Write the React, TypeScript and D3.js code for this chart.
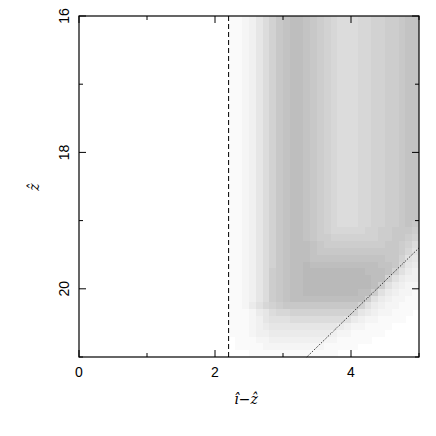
import React, { useEffect, useRef } from 'react';
import * as d3 from 'd3';

const xDomain = [0, 5];
const yDomain = [16, 21];
const xTicks = [0, 1, 2, 3, 4, 5];
const yTicks = [16, 17, 18, 19, 20, 21];
const xLabels = [0, 2, 4];
const yLabels = [16, 18, 20];

// density grid, 0.1 x 0.1 cells starting at (1.9, 16); one char per cell,
// base-36 darkness level (grey = 255 - 5 * level)
const gridX0 = 1.9;
const gridY0 = 16;
const gridStep = 0.1;
const upperRow = '00011 23579 bcddc ba987 77889 9aabc c';
const densityRows = [
  upperRow, upperRow, upperRow, upperRow, upperRow,
  upperRow, upperRow, upperRow, upperRow, upperRow,
  upperRow, upperRow, upperRow, upperRow, upperRow,
  upperRow, upperRow, upperRow, upperRow, upperRow,
  upperRow, upperRow, upperRow, upperRow, upperRow,
  upperRow, upperRow, upperRow, upperRow, upperRow,
  '00011 23579 bcddc ba987 77889 9aabc b',
  '00011 23579 bcddc ba988 88899 aabbb a',
  '00011 23579 bcddc baa99 99999 aabba 9',
  '00011 23579 bcddd cbaaa aaaaa abba9 7',
  '00011 23579 bcddd cbbbb bbbbb bbba8 6',
  '00011 23579 bcddd ccccc ccccc cbb96 5',
  '00011 23579 bcdde ddddd ddddd ccb85 4',
  '00011 2357a bcdde eeeee eeedd dc964 3',
  '00011 2357a bcdde eeeee eeeed d9643 3',
  '00011 2357a bcdde eeeee eeeed a6432 2',
  '00011 2357a bcdde eeeee eedda 64322 1',
  '00011 2357a bcddd ddddd ddda6 43221 1',
  '00011 24689 abbbb bbbbb bb964 32211 1',
  '00011 12457 88999 99999 98543 22111 0',
  '00011 12356 66777 77777 64322 11110 0',
  '00011 12345 55555 55554 32211 11000 0',
  '00011 12334 44444 44432 21111 10000 0',
  '00001 11223 33333 33221 11110 00000 0',
  '00001 11122 22222 22111 11000 00000 0',
  '00000 01111 11111 11110 00000 00000 0',
];

const dashedX = 2.2;
const dottedLine = [
  { x: 3.35, y: 21 },
  { x: 5, y: 19.4 },
];

const App = () => {
  const svgRef = useRef<SVGSVGElement>(null);

  useEffect(() => {
    const svg = d3.select(svgRef.current);
    svg.selectAll('*').remove();

    const plot = { left: 79, right: 419, top: 16, bottom: 357 };

    const x = d3.scaleLinear().domain(xDomain).range([plot.left, plot.right]);
    const y = d3.scaleLinear().domain(yDomain).range([plot.top, plot.bottom]);

    // heatmap cells
    const cells: { i: number; j: number; level: number }[] = [];
    densityRows.forEach((row, j) => {
      row.replace(/ /g, '').split('').forEach((ch, i) => {
        const level = parseInt(ch, 36);
        if (level > 0) cells.push({ i, j, level });
      });
    });

    svg.append('g')
      .attr('shape-rendering', 'crispEdges')
      .selectAll('rect')
      .data(cells)
      .enter()
      .append('rect')
      .attr('x', d => x(gridX0 + d.i * gridStep))
      .attr('y', d => y(gridY0 + d.j * gridStep))
      .attr('width', d => x(gridX0 + (d.i + 1) * gridStep) - x(gridX0 + d.i * gridStep) + 0.3)
      .attr('height', d => y(gridY0 + (d.j + 1) * gridStep) - y(gridY0 + d.j * gridStep) + 0.3)
      .attr('fill', d => {
        const g = 255 - 5 * d.level;
        return `rgb(${g},${g},${g})`;
      });

    // dashed vertical line
    svg.append('line')
      .attr('x1', x(dashedX))
      .attr('x2', x(dashedX))
      .attr('y1', y(yDomain[0]))
      .attr('y2', y(yDomain[1]))
      .attr('stroke', '#000')
      .attr('stroke-width', 1)
      .attr('stroke-dasharray', '5,3');

    // dotted diagonal
    svg.append('path')
      .datum(dottedLine)
      .attr('fill', 'none')
      .attr('stroke', '#000')
      .attr('stroke-width', 1)
      .attr('stroke-dasharray', '1,1.5')
      .attr('d', d3.line<{ x: number; y: number }>().x(d => x(d.x)).y(d => y(d.y)));

    // frame
    svg.append('rect')
      .attr('x', plot.left)
      .attr('y', plot.top)
      .attr('width', plot.right - plot.left)
      .attr('height', plot.bottom - plot.top)
      .attr('fill', 'none')
      .attr('stroke', '#000')
      .attr('stroke-width', 1.2);

    // inward ticks on all four sides
    const ticks = svg.append('g').attr('stroke', '#000').attr('stroke-width', 1);
    xTicks.forEach(t => {
      const len = xLabels.includes(t) ? 7 : 4;
      ticks.append('line').attr('x1', x(t)).attr('x2', x(t)).attr('y1', plot.bottom).attr('y2', plot.bottom - len);
      ticks.append('line').attr('x1', x(t)).attr('x2', x(t)).attr('y1', plot.top).attr('y2', plot.top + len);
    });
    yTicks.forEach(t => {
      const len = yLabels.includes(t) ? 7 : 4;
      ticks.append('line').attr('x1', plot.left).attr('x2', plot.left + len).attr('y1', y(t)).attr('y2', y(t));
      ticks.append('line').attr('x1', plot.right).attr('x2', plot.right - len).attr('y1', y(t)).attr('y2', y(t));
    });

    // tick labels
    svg.append('g')
      .selectAll('text')
      .data(xLabels)
      .enter()
      .append('text')
      .attr('x', d => x(d))
      .attr('y', 377)
      .attr('text-anchor', 'middle')
      .attr('font-family', 'Liberation Sans, Arial, sans-serif')
      .attr('font-size', 14)
      .attr('fill', '#000')
      .text(d => d);

    svg.append('g')
      .selectAll('text')
      .data(yLabels)
      .enter()
      .append('text')
      .attr('transform', d => `translate(69,${y(d)}) rotate(-90)`)
      .attr('text-anchor', 'middle')
      .attr('font-family', 'Liberation Sans, Arial, sans-serif')
      .attr('font-size', 14)
      .attr('fill', '#000')
      .text(d => d);

    // axis titles
    svg.append('text')
      .attr('x', 246)
      .attr('y', 404)
      .attr('text-anchor', 'middle')
      .attr('font-family', 'DejaVu Serif, serif')
      .attr('font-style', 'italic')
      .attr('font-size', 14)
      .attr('fill', '#000')
      .text('\u0131\u0302\u2212\u1E91');

    svg.append('text')
      .attr('transform', 'translate(39,187) rotate(-90)')
      .attr('text-anchor', 'middle')
      .attr('font-family', 'DejaVu Serif, serif')
      .attr('font-style', 'italic')
      .attr('font-size', 14)
      .attr('fill', '#000')
      .text('\u1E91');
  }, []);

  return (
    <div style={{ position: 'absolute', left: 0, top: 0 }}>
      <svg ref={svgRef} width={436} height={436} style={{ display: 'block', background: '#fff' }} />
    </div>
  );
};

export default App;
